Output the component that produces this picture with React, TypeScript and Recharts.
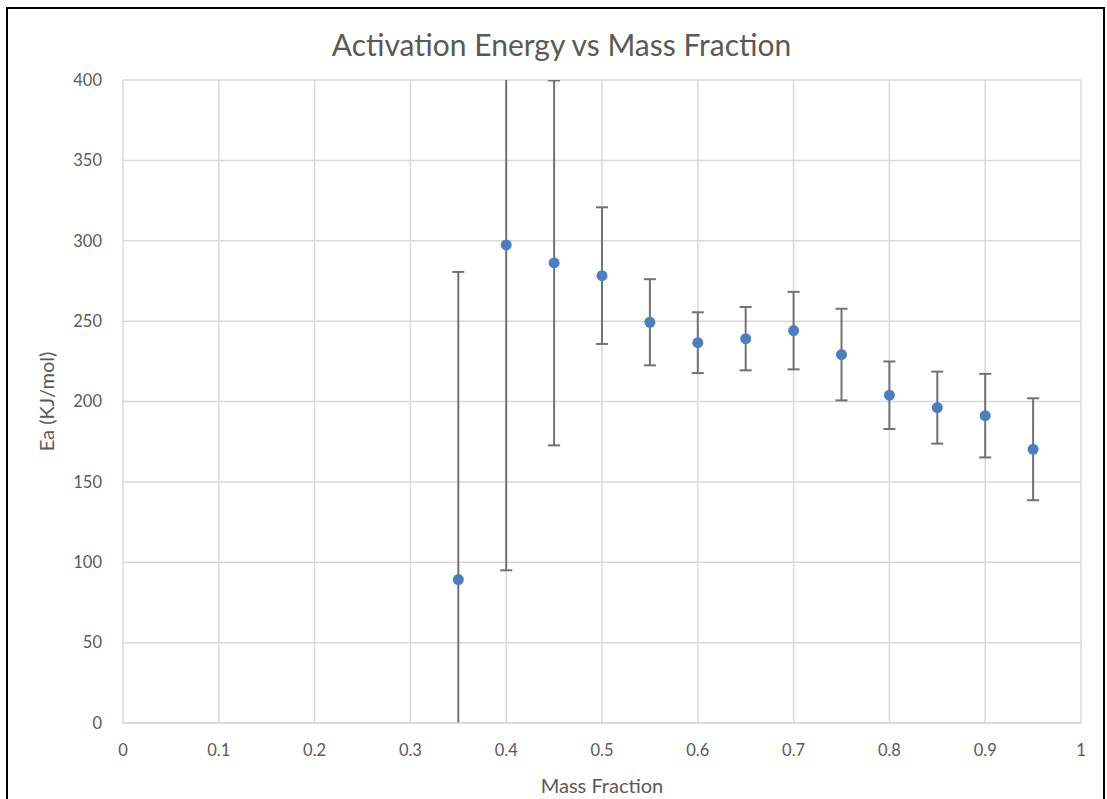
import { ScatterChart, Scatter, XAxis, YAxis, CartesianGrid, ErrorBar, Label } from "recharts";

const massFraction = [0.35, 0.4, 0.45, 0.5, 0.55, 0.6, 0.65, 0.7, 0.75, 0.8, 0.85, 0.9, 0.95];
const activationEnergy = [89.2, 297.4, 286.2, 278.3, 249.3, 236.6, 239.1, 244.1, 229.2, 203.9, 196.2, 191.2, 170.3];
const errorAmount = [191.4, 202.4, 113.5, 42.5, 26.8, 18.9, 19.7, 24.1, 28.5, 21.0, 22.4, 26.0, 31.7];

const xTicks = [0, 0.1, 0.2, 0.3, 0.4, 0.5, 0.6, 0.7, 0.8, 0.9, 1];
const yTicks = [0, 50, 100, 150, 200, 250, 300, 350, 400];

const data = massFraction.map((x, i) => ({
    x,
    y: activationEnergy[i],
    err: errorAmount[i],
}));

const font = "Lato, 'Open Sans', sans-serif";
const textColor = "#595959";
const gridColor = "#d9d9d9";
const dotColor = "#4a7ebf";

const tickStyle = { fill: textColor, fontSize: 16.5, fontFamily: font };

// chart box + margins, also used to clip the error bars to the plot area
const W = 1095;
const H = 796;
const M = { top: 71, right: 22, bottom: 42, left: 55 };
const Y_AXIS_W = 60;
const X_AXIS_H = 40;
const plotX = M.left + Y_AXIS_W;
const plotW = W - M.right - plotX;
const plotH = H - M.bottom - X_AXIS_H - M.top;

const Dot = (props: any) => <circle cx={props.cx} cy={props.cy} r={5.5} fill={dotColor} />;

export default function App() {
    return (
        <div
            style={{
                position: "absolute",
                left: 6,
                top: 7,
                width: 1099,
                height: 800,
                border: "2px solid #000",
                boxSizing: "border-box",
                background: "#fff",
                overflow: "hidden",
            }}
        >
            <style>{`.recharts-errorBars, .recharts-errorBar { clip-path: url(#plotClip); }`}</style>
            <svg width={0} height={0} style={{ position: "absolute" }}>
                <defs>
                    <clipPath id="plotClip" clipPathUnits="userSpaceOnUse">
                        <rect x={plotX} y={M.top} width={plotW} height={plotH} />
                    </clipPath>
                </defs>
            </svg>
            <div
                style={{
                    position: "absolute",
                    left: 6,
                    width: W,
                    top: 17,
                    textAlign: "center",
                    fontFamily: font,
                    fontSize: 30,
                    color: textColor,
                }}
            >
                Activation Energy vs Mass Fraction
            </div>
            <ScatterChart
                width={W}
                height={H}
                margin={M}
                style={{ position: "absolute", left: 0, top: 0 }}
            >
                <CartesianGrid stroke={gridColor} strokeWidth={1.5} />
                <XAxis
                    type="number"
                    dataKey="x"
                    domain={[0, 1]}
                    ticks={xTicks}
                    tick={tickStyle}
                    tickLine={false}
                    axisLine={{ stroke: gridColor, strokeWidth: 1.5 }}
                    tickMargin={15}
                    height={X_AXIS_H}
                    interval={0}
                >
                    <Label
                        value="Mass Fraction"
                        position="bottom"
                        offset={16}
                        style={{ fill: textColor, fontSize: 20, fontFamily: font }}
                    />
                </XAxis>
                <YAxis
                    type="number"
                    dataKey="y"
                    domain={[0, 400]}
                    ticks={yTicks}
                    allowDataOverflow
                    tick={tickStyle}
                    tickLine={false}
                    axisLine={false}
                    tickMargin={15}
                    width={Y_AXIS_W}
                    interval={0}
                >
                    <Label
                        value="Ea (KJ/mol)"
                        angle={-90}
                        position="left"
                        offset={16}
                        style={{ fill: textColor, fontSize: 20, fontFamily: font, textAnchor: "middle" }}
                    />
                </YAxis>
                <Scatter data={data} fill={dotColor} isAnimationActive={false} shape={Dot}>
                    <ErrorBar
                        dataKey="err"
                        direction="y"
                        width={6}
                        stroke="#727272"
                        strokeWidth={2}
                        isAnimationActive={false}
                    />
                </Scatter>
            </ScatterChart>
        </div>
    );
}
